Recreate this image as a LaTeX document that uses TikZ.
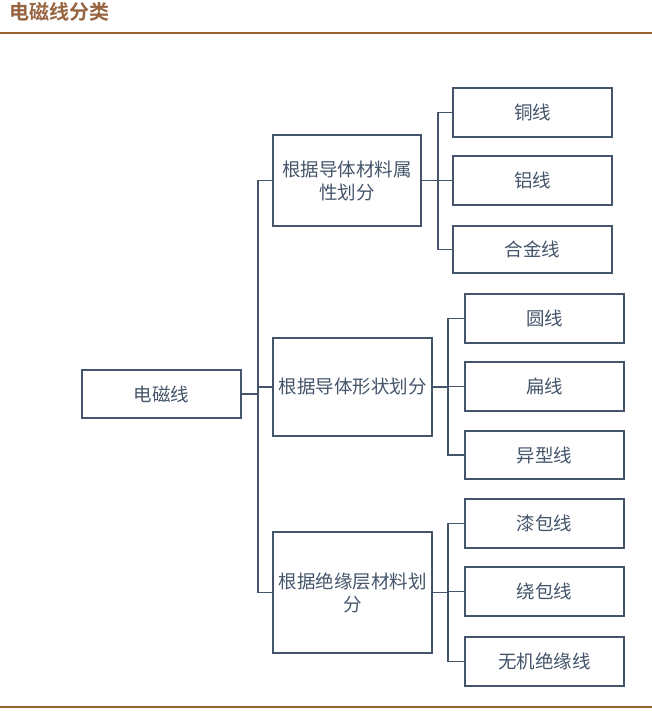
\documentclass[tikz,border=0pt]{standalone}
\usepackage{fontspec}
\newfontfamily\cjk{Noto Sans CJK SC}
\newfontfamily\cjkb{Noto Sans CJK SC Bold}
\definecolor{boxc}{HTML}{44546A}
\definecolor{brownc}{HTML}{9A6334}
\definecolor{titlec}{HTML}{966441}
\begin{document}
\begin{tikzpicture}[x=1pt,y=-1pt,
  box/.style={draw=boxc,line width=1.6pt,text=boxc,font=\cjk\fontsize{18.5}{23}\selectfont,align=center,inner sep=0pt},
  conn/.style={draw=boxc,line width=1.6pt}]
\useasboundingbox (0,0) rectangle (652,713);
% header
\node[anchor=west,text=titlec,font=\cjkb\fontsize{20}{22}\selectfont,inner sep=0pt] (title) at (9,12) {电磁线分类};
\draw[brownc,line width=1.6pt] (0,33) -- (652,33);
\draw[brownc,line width=1.6pt] (0,707) -- (652,707);
% boxes
\node[box,minimum width=159,minimum height=48] (root) at (161.5,394) {电磁线};
\node[box,minimum width=148,minimum height=91] (b1) at (347,180.5) {根据导体材料属\\性划分};
\node[box,minimum width=159,minimum height=98] (b2) at (352.5,387) {根据导体形状划分};
\node[box,minimum width=159,minimum height=121] (b3) at (352.5,592.5) {根据绝缘层材料划\\分};
\node[box,minimum width=159,minimum height=49] (c1) at (532.5,112.5) {铜线};
\node[box,minimum width=159,minimum height=49] (c2) at (532.5,180.5) {铝线};
\node[box,minimum width=159,minimum height=47] (c3) at (532.5,249.5) {合金线};
\node[box,minimum width=159,minimum height=49] (d1) at (544.5,318.5) {圆线};
\node[box,minimum width=159,minimum height=49] (d2) at (544.5,386.5) {扁线};
\node[box,minimum width=159,minimum height=48] (d3) at (544.5,455) {异型线};
\node[box,minimum width=159,minimum height=49] (e1) at (544.5,523.5) {漆包线};
\node[box,minimum width=159,minimum height=49] (e2) at (544.5,591.5) {绕包线};
\node[box,minimum width=159,minimum height=49] (e3) at (544.5,661.5) {无机绝缘线};
% connectors
\draw[conn] (root.east) -- ++(16,0) |- (b1.west);
\draw[conn] (root.east) -- ++(16,0) |- (b2.west);
\draw[conn] (root.east) -- ++(16,0) |- (b3.west);
\draw[conn] (b1.east) -- ++(16,0) |- (c1.west);
\draw[conn] (b1.east) -- ++(16,0) |- (c2.west);
\draw[conn] (b1.east) -- ++(16,0) |- (c3.west);
\draw[conn] (b2.east) -- ++(15,0) |- (d1.west);
\draw[conn] (b2.east) -- ++(15,0) |- (d2.west);
\draw[conn] (b2.east) -- ++(15,0) |- (d3.west);
\draw[conn] (b3.east) -- ++(15,0) |- (e1.west);
\draw[conn] (b3.east) -- ++(15,0) |- (e2.west);
\draw[conn] (b3.east) -- ++(15,0) |- (e3.west);
\end{tikzpicture}
\end{document}
